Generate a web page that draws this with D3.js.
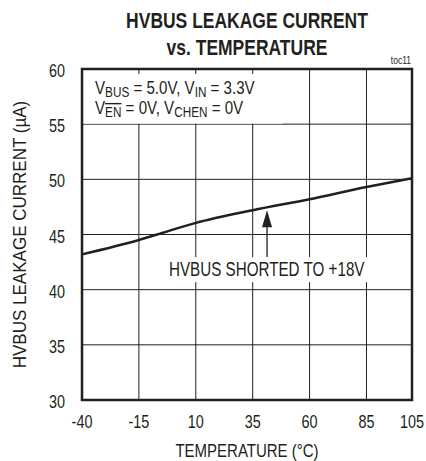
<!DOCTYPE html>
<html>
<head>
<meta charset="utf-8">
<script src="https://cdn.jsdelivr.net/npm/d3@7"></script>
<style>
  body { margin: 0; background: #fff; }
  text { font-family: "Liberation Sans", Arial, sans-serif; fill: #231f20; }
</style>
</head>
<body>
<svg id="chart"></svg>
<script>
// data
const temps = [-40, -15, -7, 10, 35, 60, 85, 105]
const leakage = [43.2, 44.5, 45.0, 46.05, 47.2, 48.2, 49.3, 50.1]
const xTicks = [-40, -15, 10, 35, 60, 85, 105]
const yTicks = [30, 35, 40, 45, 50, 55, 60]
const arrowTemp = 41.3

function leakage_vs_temp() {
  const dimensions = {
    width: 426,
    height: 461,
    margin: { top: 69, right: 14, bottom: 61, left: 82 },
  }
  dimensions.boundedWidth = dimensions.width - dimensions.margin.left - dimensions.margin.right
  dimensions.boundedHeight = dimensions.height - dimensions.margin.top - dimensions.margin.bottom

  const svg = d3.select("#chart")
      .attr("width", dimensions.width)
      .attr("height", dimensions.height)

  const bounds = svg.append("g")
      .attr("transform", `translate(${dimensions.margin.left},${dimensions.margin.top})`)

  const x = d3.scaleLinear().domain([-40, 105]).range([0, dimensions.boundedWidth])
  const y = d3.scaleLinear().domain([30, 60]).range([dimensions.boundedHeight, 0])

  // narrow-looking text: squeeze horizontally around the anchor point
  const narrow = (sel, sx) => sel
      .attr("transform", function() {
        const tx = +this.getAttribute("x"), ty = +this.getAttribute("y")
        return `translate(${tx},${ty}) scale(${sx},1)`
      })
      .attr("x", 0).attr("y", 0)

  // grid
  bounds.selectAll(".hgrid").data(yTicks.slice(1, -1)).join("line")
      .attr("x1", 0).attr("x2", dimensions.boundedWidth)
      .attr("y1", d => y(d)).attr("y2", d => y(d))
      .attr("stroke", "#231f20").attr("stroke-width", 1)
  bounds.selectAll(".vgrid").data(xTicks.slice(1, -1)).join("line")
      .attr("x1", d => x(d)).attr("x2", d => x(d))
      .attr("y1", 0).attr("y2", dimensions.boundedHeight)
      .attr("stroke", "#231f20").attr("stroke-width", 1)

  // white boxes behind annotations
  bounds.append("rect")
      .attr("x", 1).attr("y", 5)
      .attr("width", x(48) - 1).attr("height", y(55) - 5.5)
      .attr("fill", "#fff")
  bounds.append("rect")
      .attr("x", 84).attr("y", y(42.95))
      .attr("width", 206).attr("height", 25)
      .attr("fill", "#fff")

  // curve
  const line = d3.line()
      .x(d => x(d[0]))
      .y(d => y(d[1]))
      .curve(d3.curveMonotoneX)
  bounds.append("path")
      .datum(temps.map((t, i) => [t, leakage[i]]))
      .attr("d", line)
      .attr("fill", "none")
      .attr("stroke", "#231f20")
      .attr("stroke-width", 2.5)

  // frame
  bounds.append("rect")
      .attr("width", dimensions.boundedWidth)
      .attr("height", dimensions.boundedHeight)
      .attr("fill", "none")
      .attr("stroke", "#231f20")
      .attr("stroke-width", 2.5)

  // arrow
  const ax = x(arrowTemp)
  bounds.append("line")
      .attr("x1", ax).attr("x2", ax)
      .attr("y1", y(42.95)).attr("y2", y(45.9))
      .attr("stroke", "#231f20").attr("stroke-width", 1.3)
  bounds.append("path")
      .attr("d", `M${ax},${y(47.2)} L${ax - 5},${y(45.65)} L${ax + 5},${y(45.65)} Z`)
      .attr("fill", "#231f20")

  bounds.append("text")
      .attr("x", 87).attr("y", y(42.95) + 19)
      .style("font-size", "19.5px")
      .text("HVBUS SHORTED TO +18V")
      .call(narrow, 0.78)

  // conditions text
  const cond1 = bounds.append("text").attr("x", 13).attr("y", 25).style("font-size", "18px")
  cond1.append("tspan").text("V")
  cond1.append("tspan").attr("dy", 3).style("font-size", "14px").text("BUS")
  cond1.append("tspan").attr("dy", -3).text(" = 5.0V, V")
  cond1.append("tspan").attr("dy", 3).style("font-size", "14px").text("IN")
  cond1.append("tspan").attr("dy", -3).text(" = 3.3V")
  cond1.call(narrow, 0.84)

  const cond2 = bounds.append("text").attr("x", 13).attr("y", 45).style("font-size", "18px")
  cond2.append("tspan").text("V")
  cond2.append("tspan").attr("dy", 3).style("font-size", "14px")
      .style("text-decoration", "overline").text("EN")
  cond2.append("tspan").attr("dy", -3).text(" = 0V, V")
  cond2.append("tspan").attr("dy", 3).style("font-size", "14px").text("CHEN")
  cond2.append("tspan").attr("dy", -3).text(" = 0V")
  cond2.call(narrow, 0.84)

  // axes labels
  bounds.selectAll(".ylab").data(yTicks).join("text")
      .attr("x", -17).attr("y", d => y(d) + 8)
      .attr("text-anchor", "end")
      .style("font-size", "18px")
      .text(d => d)
      .call(narrow, 0.8)
  bounds.selectAll(".xlab").data(xTicks).join("text")
      .attr("x", d => x(d)).attr("y", dimensions.boundedHeight + 28)
      .attr("text-anchor", "middle")
      .style("font-size", "18px")
      .text(d => d)
      .call(narrow, 0.8)

  bounds.append("text")
      .attr("x", dimensions.boundedWidth / 2).attr("y", dimensions.boundedHeight + 57)
      .attr("text-anchor", "middle")
      .style("font-size", "19px")
      .text("TEMPERATURE (°C)")
      .call(narrow, 0.79)
  svg.append("text")
      .attr("transform", `translate(26,${dimensions.margin.top + dimensions.boundedHeight / 2}) rotate(-90) scale(0.92,1)`)
      .attr("text-anchor", "middle")
      .style("font-size", "18.5px")
      .text("HVBUS LEAKAGE CURRENT (µA)")

  // title
  const cx = dimensions.margin.left + dimensions.boundedWidth / 2
  svg.append("text").attr("x", cx).attr("y", 28)
      .attr("text-anchor", "middle").style("font-size", "22px").style("font-weight", "bold")
      .text("HVBUS LEAKAGE CURRENT")
      .call(narrow, 0.795)
  svg.append("text").attr("x", cx).attr("y", 55)
      .attr("text-anchor", "middle").style("font-size", "22px").style("font-weight", "bold")
      .text("vs. TEMPERATURE")
      .call(narrow, 0.795)
  svg.append("text").attr("x", dimensions.width - dimensions.margin.right - 1).attr("y", 64)
      .attr("text-anchor", "end").style("font-size", "10px")
      .text("toc11")
      .call(narrow, 0.85)
}

leakage_vs_temp()
</script>
</body>
</html>
